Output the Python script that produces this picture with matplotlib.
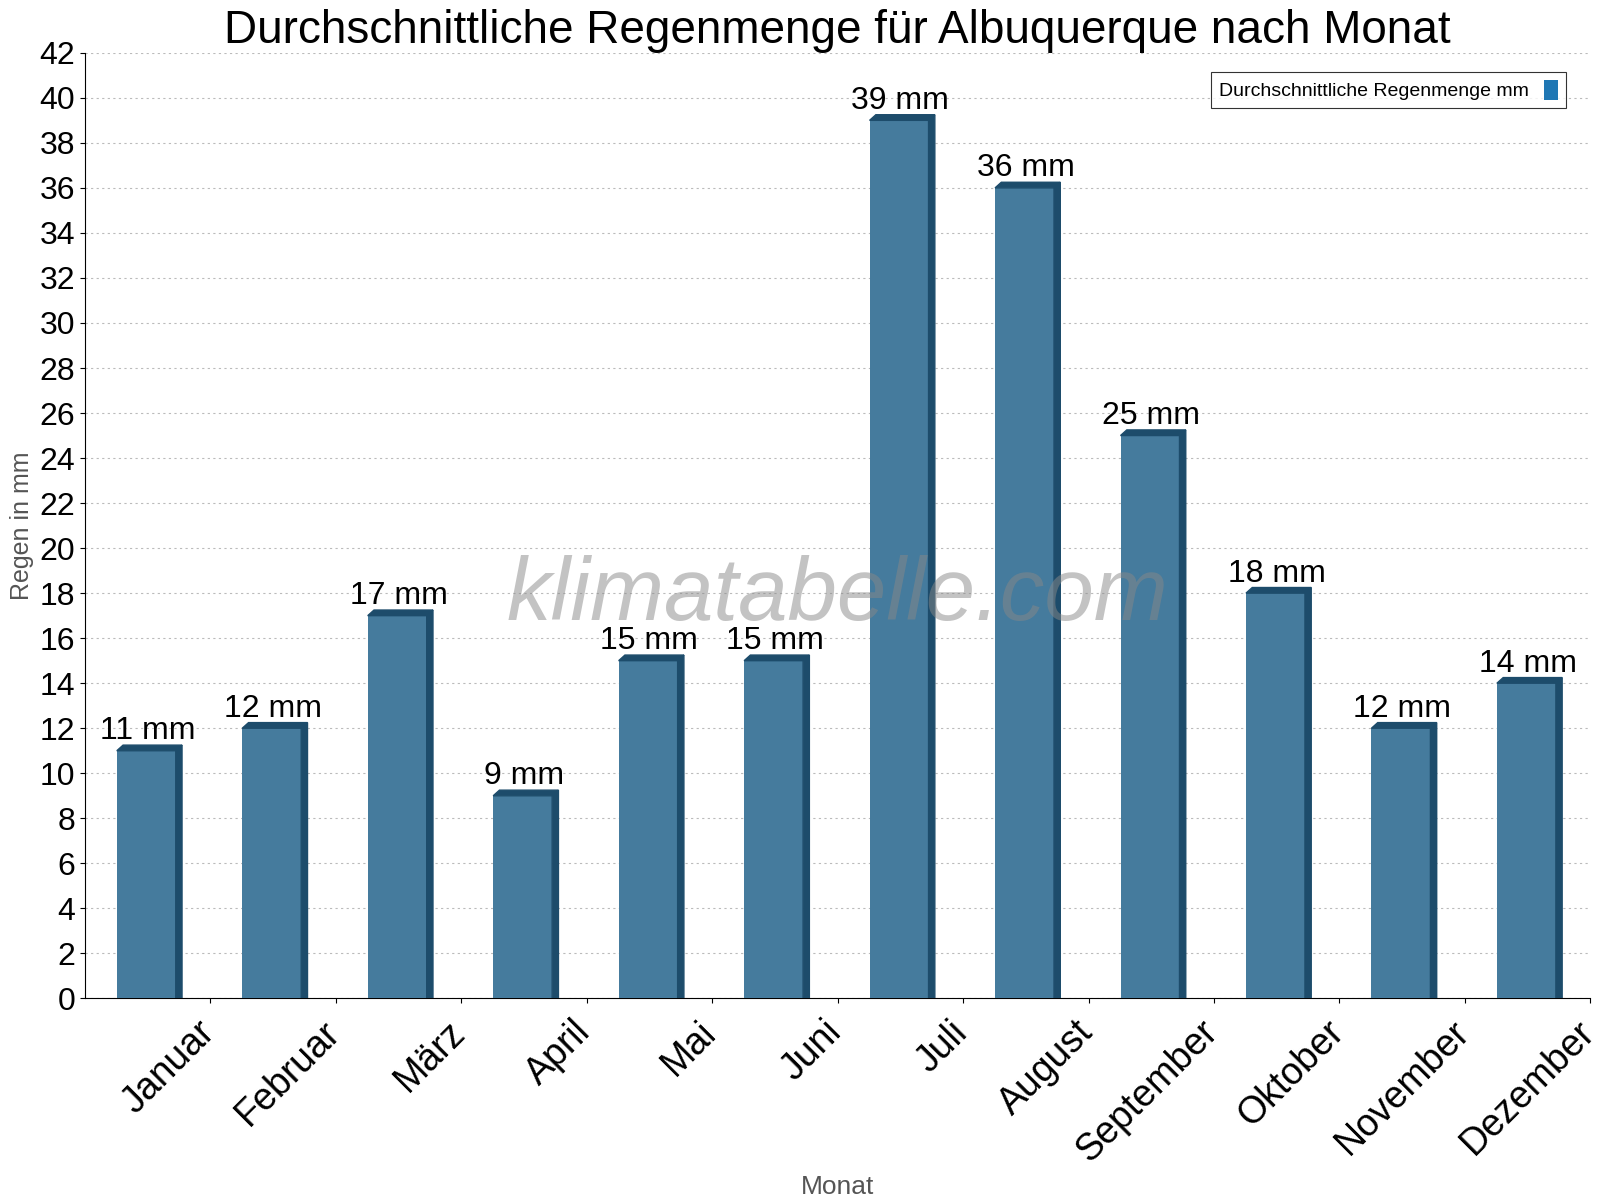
import matplotlib.pyplot as plt
import matplotlib.transforms as mtransforms
from matplotlib.patches import Polygon

months = ["Januar", "Februar", "März", "April", "Mai", "Juni", "Juli",
          "August", "September", "Oktober", "November", "Dezember"]
rain_mm = [11, 12, 17, 9, 15, 15, 39, 36, 25, 18, 12, 14]

plt.rcParams["font.family"] = "Liberation Sans"

fig = plt.figure(figsize=(16, 12), dpi=100)
ax = fig.add_axes([0.053, 0.168, 0.941, 0.788])

face = "#457b9d"
side = "#1d4c6b"
width = 0.47
dx, dy = 0.05, 0.25

for i, v in enumerate(rain_mm):
    x0 = i - 0.01 - width / 2
    x1 = x0 + width
    ax.bar(x0, v, width=width, align="edge", color=face, zorder=3)
    ax.add_patch(Polygon([(x1, 0), (x1 + dx, 0), (x1 + dx, v + dy), (x1, v)],
                         closed=True, color=side, zorder=3))
    ax.add_patch(Polygon([(x0, v), (x1, v), (x1 + dx, v + dy), (x0 + dx, v + dy)],
                         closed=True, color=side, zorder=3))
    ax.text(i, v + 0.2, f"{v} mm", ha="center", va="bottom", fontsize=23, zorder=4)

ax.bar([], [], color=face, edgecolor=side, label="Durchschnittliche Regenmenge mm")

ax.set_xlim(-0.5, 11.5)
ax.set_ylim(0, 42)
ax.set_yticks(range(0, 43, 2))
ax.tick_params(axis="y", labelsize=23)
ax.set_xticks([i + 0.5 for i in range(12)])
ax.set_xticklabels(months, rotation=45, ha="right", rotation_mode="anchor", fontsize=27)
offset = mtransforms.ScaledTranslation(-14 / 100, -6 / 100, fig.dpi_scale_trans)
for lbl in ax.get_xticklabels():
    lbl.set_transform(lbl.get_transform() + offset)
ax.grid(axis="y", linestyle=(0, (2, 3)), color="#bbbbbb", linewidth=0.8, zorder=0)
for s in ["top", "right"]:
    ax.spines[s].set_visible(False)

ax.set_title("Durchschnittliche Regenmenge für Albuquerque nach Monat", fontsize=33, pad=6)
ax.set_ylabel("Regen in mm", fontsize=18, color="#555555")
ax.set_xlabel("Monat", fontsize=19, color="#555555", labelpad=4)

ax.text(0.5, 0.425, "klimatabelle.com", transform=ax.transAxes, ha="center", va="center",
        fontsize=64, style="italic", fontweight="light", color="#888888", alpha=0.5, zorder=5)

leg = ax.legend(loc="upper right", fontsize=14, frameon=True, fancybox=False,
                edgecolor="black", markerfirst=False, handlelength=0.7, handleheight=1.2,
                bbox_to_anchor=(0.99, 0.99))
leg.get_frame().set_linewidth(0.8)

fig.savefig("out.png")
